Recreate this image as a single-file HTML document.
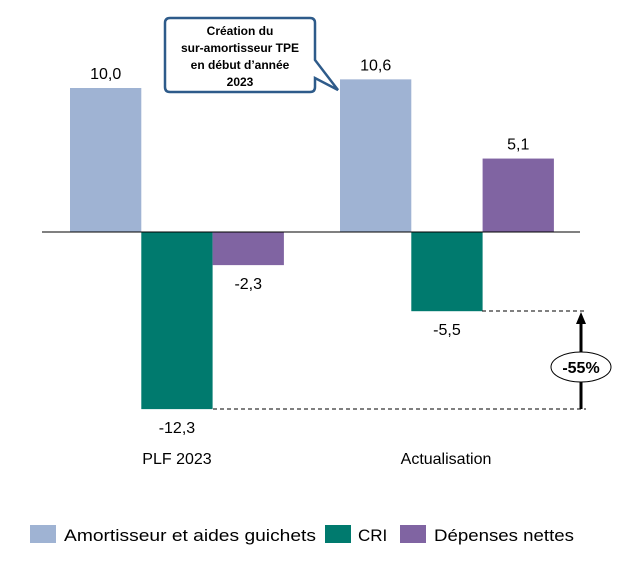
<!DOCTYPE html>
<html><head><meta charset="utf-8"><style>
body{margin:0;background:#fff;font-family:"Liberation Sans",sans-serif}
</style></head><body>
<svg width="620" height="560" xmlns="http://www.w3.org/2000/svg" font-family="Liberation Sans, sans-serif">
<g id="bars"></g>
<g>
<path d="M170,18 H310 Q315,18 315,23 V60 L338,90 L315,78 V87 Q315,92 310,92 H170 Q165,92 165,87 V23 Q165,18 170,18 Z" fill="#fff" stroke="#2E5B8A" stroke-width="2.5"/>
<g font-size="12" font-weight="bold" text-anchor="middle" fill="#000">
<text x="240" y="35">Création du</text>
<text x="240" y="52">sur-amortisseur TPE</text>
<text x="240" y="69">en début d’année</text>
<text x="240" y="86">2023</text>
</g></g>
<g>
<line x1="482" y1="311" x2="586" y2="311" stroke="#000" stroke-dasharray="4,3"/>
<line x1="213" y1="409" x2="586" y2="409" stroke="#000" stroke-dasharray="4,3"/>
<line x1="581" y1="409" x2="581" y2="322" stroke="#000" stroke-width="3"/>
<polygon points="581,312 576,324 586,324" fill="#000"/>
<ellipse cx="581" cy="367" rx="30" ry="15" fill="#fff" stroke="#000"/>
<text x="581" y="373" font-size="16" font-weight="bold" text-anchor="middle">-55%</text>
</g>
<line x1="42" y1="232" x2="580" y2="232" stroke="#000"/>
<text x="177" y="464" font-size="16" text-anchor="middle">PLF 2023</text>
<text x="446" y="464" font-size="16" text-anchor="middle">Actualisation</text>
<g font-size="17">
<rect x="30" y="525" width="26" height="18" fill="#9FB3D3"/><text x="64" y="541" textLength="252" lengthAdjust="spacingAndGlyphs">Amortisseur et aides guichets</text>
<rect x="325" y="525" width="26" height="18" fill="#007A6E"/><text x="358" y="541">CRI</text>
<rect x="400" y="525" width="26" height="18" fill="#8064A2"/><text x="434" y="541" textLength="140" lengthAdjust="spacingAndGlyphs">Dépenses nettes</text>
</g>
</svg>
<script>
const categories=["PLF 2023","Actualisation"];
const amortisseur=[10.0,10.6];
const cri=[-12.3,-5.5];
const depenses=[-2.3,5.1];
const labels=[["10,0","-12,3","-2,3"],["10,6","-5,5","5,1"]];
const colors=["#9FB3D3","#007A6E","#8064A2"];
const y0=232,scale=14.4;
function y(v){return y0-v*scale;}
const g=document.getElementById('bars');
const ns="http://www.w3.org/2000/svg";
const groupX=[70,340],bw=71.3;
categories.forEach((c,i)=>{
  const vals=[amortisseur[i],cri[i],depenses[i]];
  vals.forEach((v,j)=>{
    const x=groupX[i]+j*bw;
    const r=document.createElementNS(ns,'rect');
    
    
    r.setAttribute('x',x);r.setAttribute('width',bw);
    r.setAttribute('y',Math.min(y(v),y0));r.setAttribute('height',Math.abs(v)*scale);
    r.setAttribute('fill',colors[j]);g.appendChild(r);
    const t=document.createElementNS(ns,'text');
    
    
    t.setAttribute('x',x+bw/2);t.setAttribute('text-anchor','middle');t.setAttribute('font-size','16');
    t.setAttribute('y',v>=0?y(v)-9:y(v)+24);
    t.textContent=labels[i][j];g.appendChild(t);
  });
});
</script>
</body></html>
